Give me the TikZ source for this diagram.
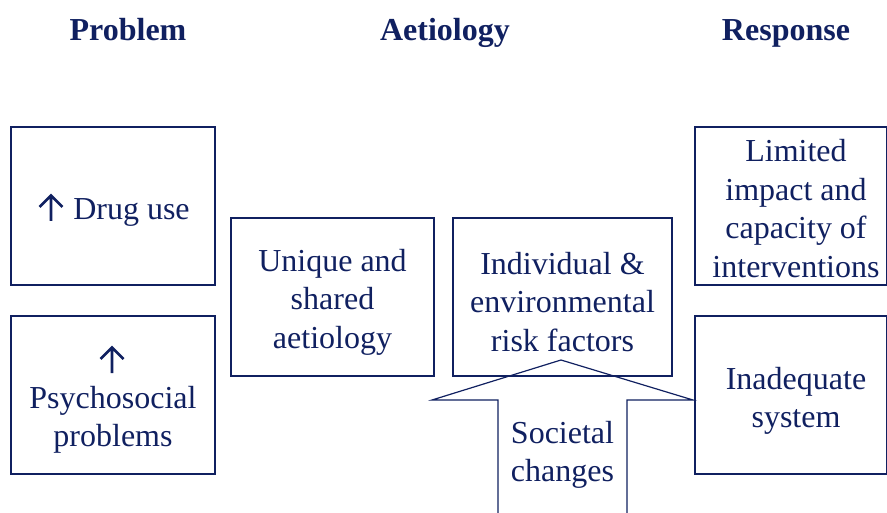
\documentclass[tikz,border=0pt]{standalone}
\usepackage{fontspec}
\setmainfont{Liberation Serif}
\definecolor{navy}{RGB}{16,32,96}
\begin{document}
\begin{tikzpicture}[x=1pt,y=-1pt,
  lbl/.style={text=navy,align=center,font=\fontsize{32}{38.5}\selectfont},
  hdr/.style={text=navy,anchor=base,font=\fontsize{32}{38}\selectfont\bfseries},
  frame/.style={draw=navy,line width=1.2pt},
  uparr/.style={draw=navy,line width=2.8pt,line join=miter}]
\useasboundingbox (0,0) rectangle (887,513);
% headers
\node[hdr] (hp) at (128,41) {Problem};
\node[hdr] (ha) at (445,41) {Aetiology};
\node[hdr] (hr) at (786,41) {Response};
% boxes
\draw[frame] (11,127) rectangle (215,285);
\draw[frame] (11,316) rectangle (215,474);
\draw[frame] (231,218) rectangle (434,376);
\draw[frame] (453,218) rectangle (672,376);
\draw[frame] (695,127) rectangle (886.4,285);
\draw[frame] (695,316) rectangle (886.4,474);
% big arrow
\draw[frame] (498,513) -- (498,400) -- (432,400) -- (561,360) -- (693,400) -- (627,400) -- (627,513);
% small up arrows
\draw[uparr] (39.5,207) -- (51,195.5) -- (62.5,207) (51,196) -- (51,221);
\draw[uparr] (100.5,359) -- (112,347.5) -- (123.5,359) (112,348) -- (112,373);
% labels
\node[lbl] (drug) at (131.5,212) {Drug use};
\node[lbl] (psy) at (113,420) {Psychosocial\\problems};
\node[lbl] (uni) at (332.5,302) {Unique and\\shared\\aetiology};
\node[lbl] (ind) at (562.5,302) {Individual \&\\environmental\\risk factors};
\node[lbl] (lim) at (796,208.5) {Limited\\impact and\\capacity of\\interventions};
\node[lbl] (inad) at (796,401) {Inadequate\\system};
\node[lbl] (soc) at (562.5,455) {Societal\\changes};
\end{tikzpicture}
\end{document}
